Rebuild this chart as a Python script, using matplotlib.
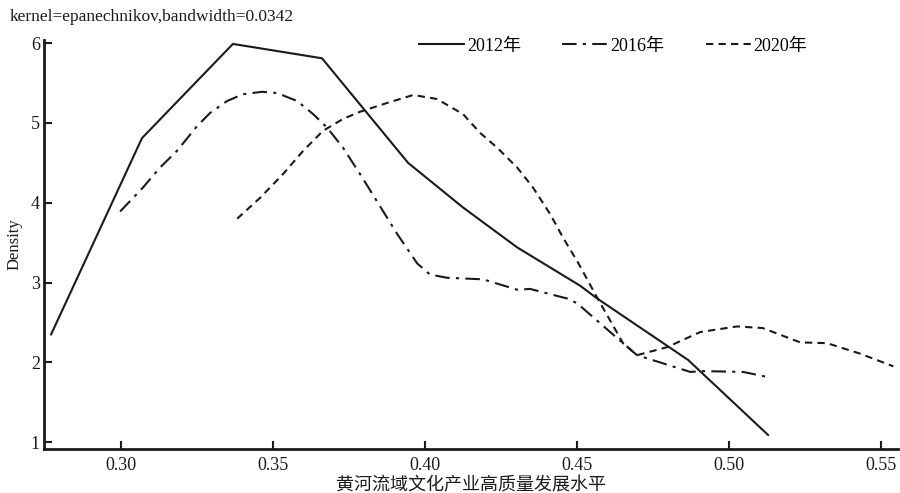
import matplotlib
matplotlib.use("Agg")
import matplotlib.pyplot as plt

plt.rcParams['font.family'] = ['Liberation Serif', 'Noto Sans CJK SC']

x2012 = [0.2770, 0.3069, 0.3368, 0.3661, 0.3944, 0.4125, 0.4303, 0.4510, 0.4566, 0.4865, 0.5128]
y2012 = [2.35, 4.81, 5.99, 5.81, 4.50, 3.94, 3.44, 2.96, 2.80, 2.03, 1.09]

x2016 = [0.2997, 0.3072, 0.3128, 0.3184, 0.3250, 0.3293, 0.3349, 0.3401, 0.3464, 0.3513,
         0.3579, 0.3632, 0.3678, 0.3730, 0.3786, 0.3908, 0.3974, 0.4016, 0.4072, 0.4191,
         0.4303, 0.4345, 0.4467, 0.4500, 0.4651, 0.4697, 0.4872, 0.4914, 0.5046, 0.5134]
y2016 = [3.89, 4.19, 4.44, 4.65, 4.96, 5.125, 5.275, 5.36, 5.39, 5.375,
         5.275, 5.11, 4.94, 4.69, 4.36, 3.61, 3.24, 3.10, 3.06, 3.04,
         2.91, 2.92, 2.80, 2.74, 2.24, 2.09, 1.88, 1.89, 1.88, 1.81]

x2020 = [0.3382, 0.3457, 0.3533, 0.3599, 0.3664, 0.3730, 0.3786, 0.3875, 0.3961, 0.4039,
         0.4125, 0.4181, 0.4237, 0.4303, 0.4355, 0.4411, 0.4454, 0.4503, 0.4566, 0.4651,
         0.4697, 0.4796, 0.4905, 0.5026, 0.5110, 0.5234, 0.5322, 0.5430, 0.5540]
y2020 = [3.80, 4.06, 4.36, 4.65, 4.90, 5.05, 5.14, 5.25, 5.35, 5.30,
         5.11, 4.875, 4.69, 4.44, 4.19, 3.86, 3.56, 3.25, 2.81, 2.24,
         2.09, 2.19, 2.38, 2.45, 2.43, 2.25, 2.24, 2.11, 1.95]

labels = ['2012年', '2016年', '2020年']
xticks = [0.30, 0.35, 0.40, 0.45, 0.50, 0.55]
yticks = [1, 2, 3, 4, 5, 6]

fig = plt.figure(figsize=(9, 4.93), dpi=100)
ax = fig.add_axes([0.049, 0.089, 0.949, 0.830])

ax.plot(x2012, y2012, color='#1a1a1a', lw=1.5, ls='-', label=labels[0])
ax.plot(x2016, y2016, color='#1a1a1a', lw=1.5, ls=(0, (7, 3, 1.5, 3)), label=labels[1])
ax.plot(x2020, y2020, color='#1a1a1a', lw=1.5, ls=(0, (3.5, 2.5)), label=labels[2])

ax.set_xlim(0.2747, 0.5556)
ax.set_ylim(0.9125, 6.04)
ax.set_xticks(xticks)
ax.set_xticklabels([f'{v:.2f}' for v in xticks])
ax.set_yticks(yticks)
ax.set_yticklabels([str(v) for v in yticks])

for s in ['top', 'right']:
    ax.spines[s].set_visible(False)
for s in ['left', 'bottom']:
    ax.spines[s].set_linewidth(2)
    ax.spines[s].set_color('#1a1a1a')
ax.tick_params(direction='in', length=6, width=1.5, labelsize=13, colors='#1a1a1a')
ax.tick_params(axis='x', pad=6)
ax.tick_params(axis='y', pad=3)

ax.set_xlabel('黄河流域文化产业高质量发展水平', fontsize=13, labelpad=2, color='#1a1a1a')
ax.set_ylabel('Density', fontsize=12, labelpad=6, color='#1a1a1a')

fig.text(0.011, 0.966, 'kernel=epanechnikov,bandwidth=0.0342', fontsize=12.5,
         ha='left', va='center', color='#1a1a1a')

leg = ax.legend(loc='upper left', bbox_to_anchor=(0.42, 1.045), ncol=3, frameon=False,
                fontsize=13, handlelength=2.5, handletextpad=0.15, columnspacing=2.3)

fig.savefig('out.png', dpi=100)
